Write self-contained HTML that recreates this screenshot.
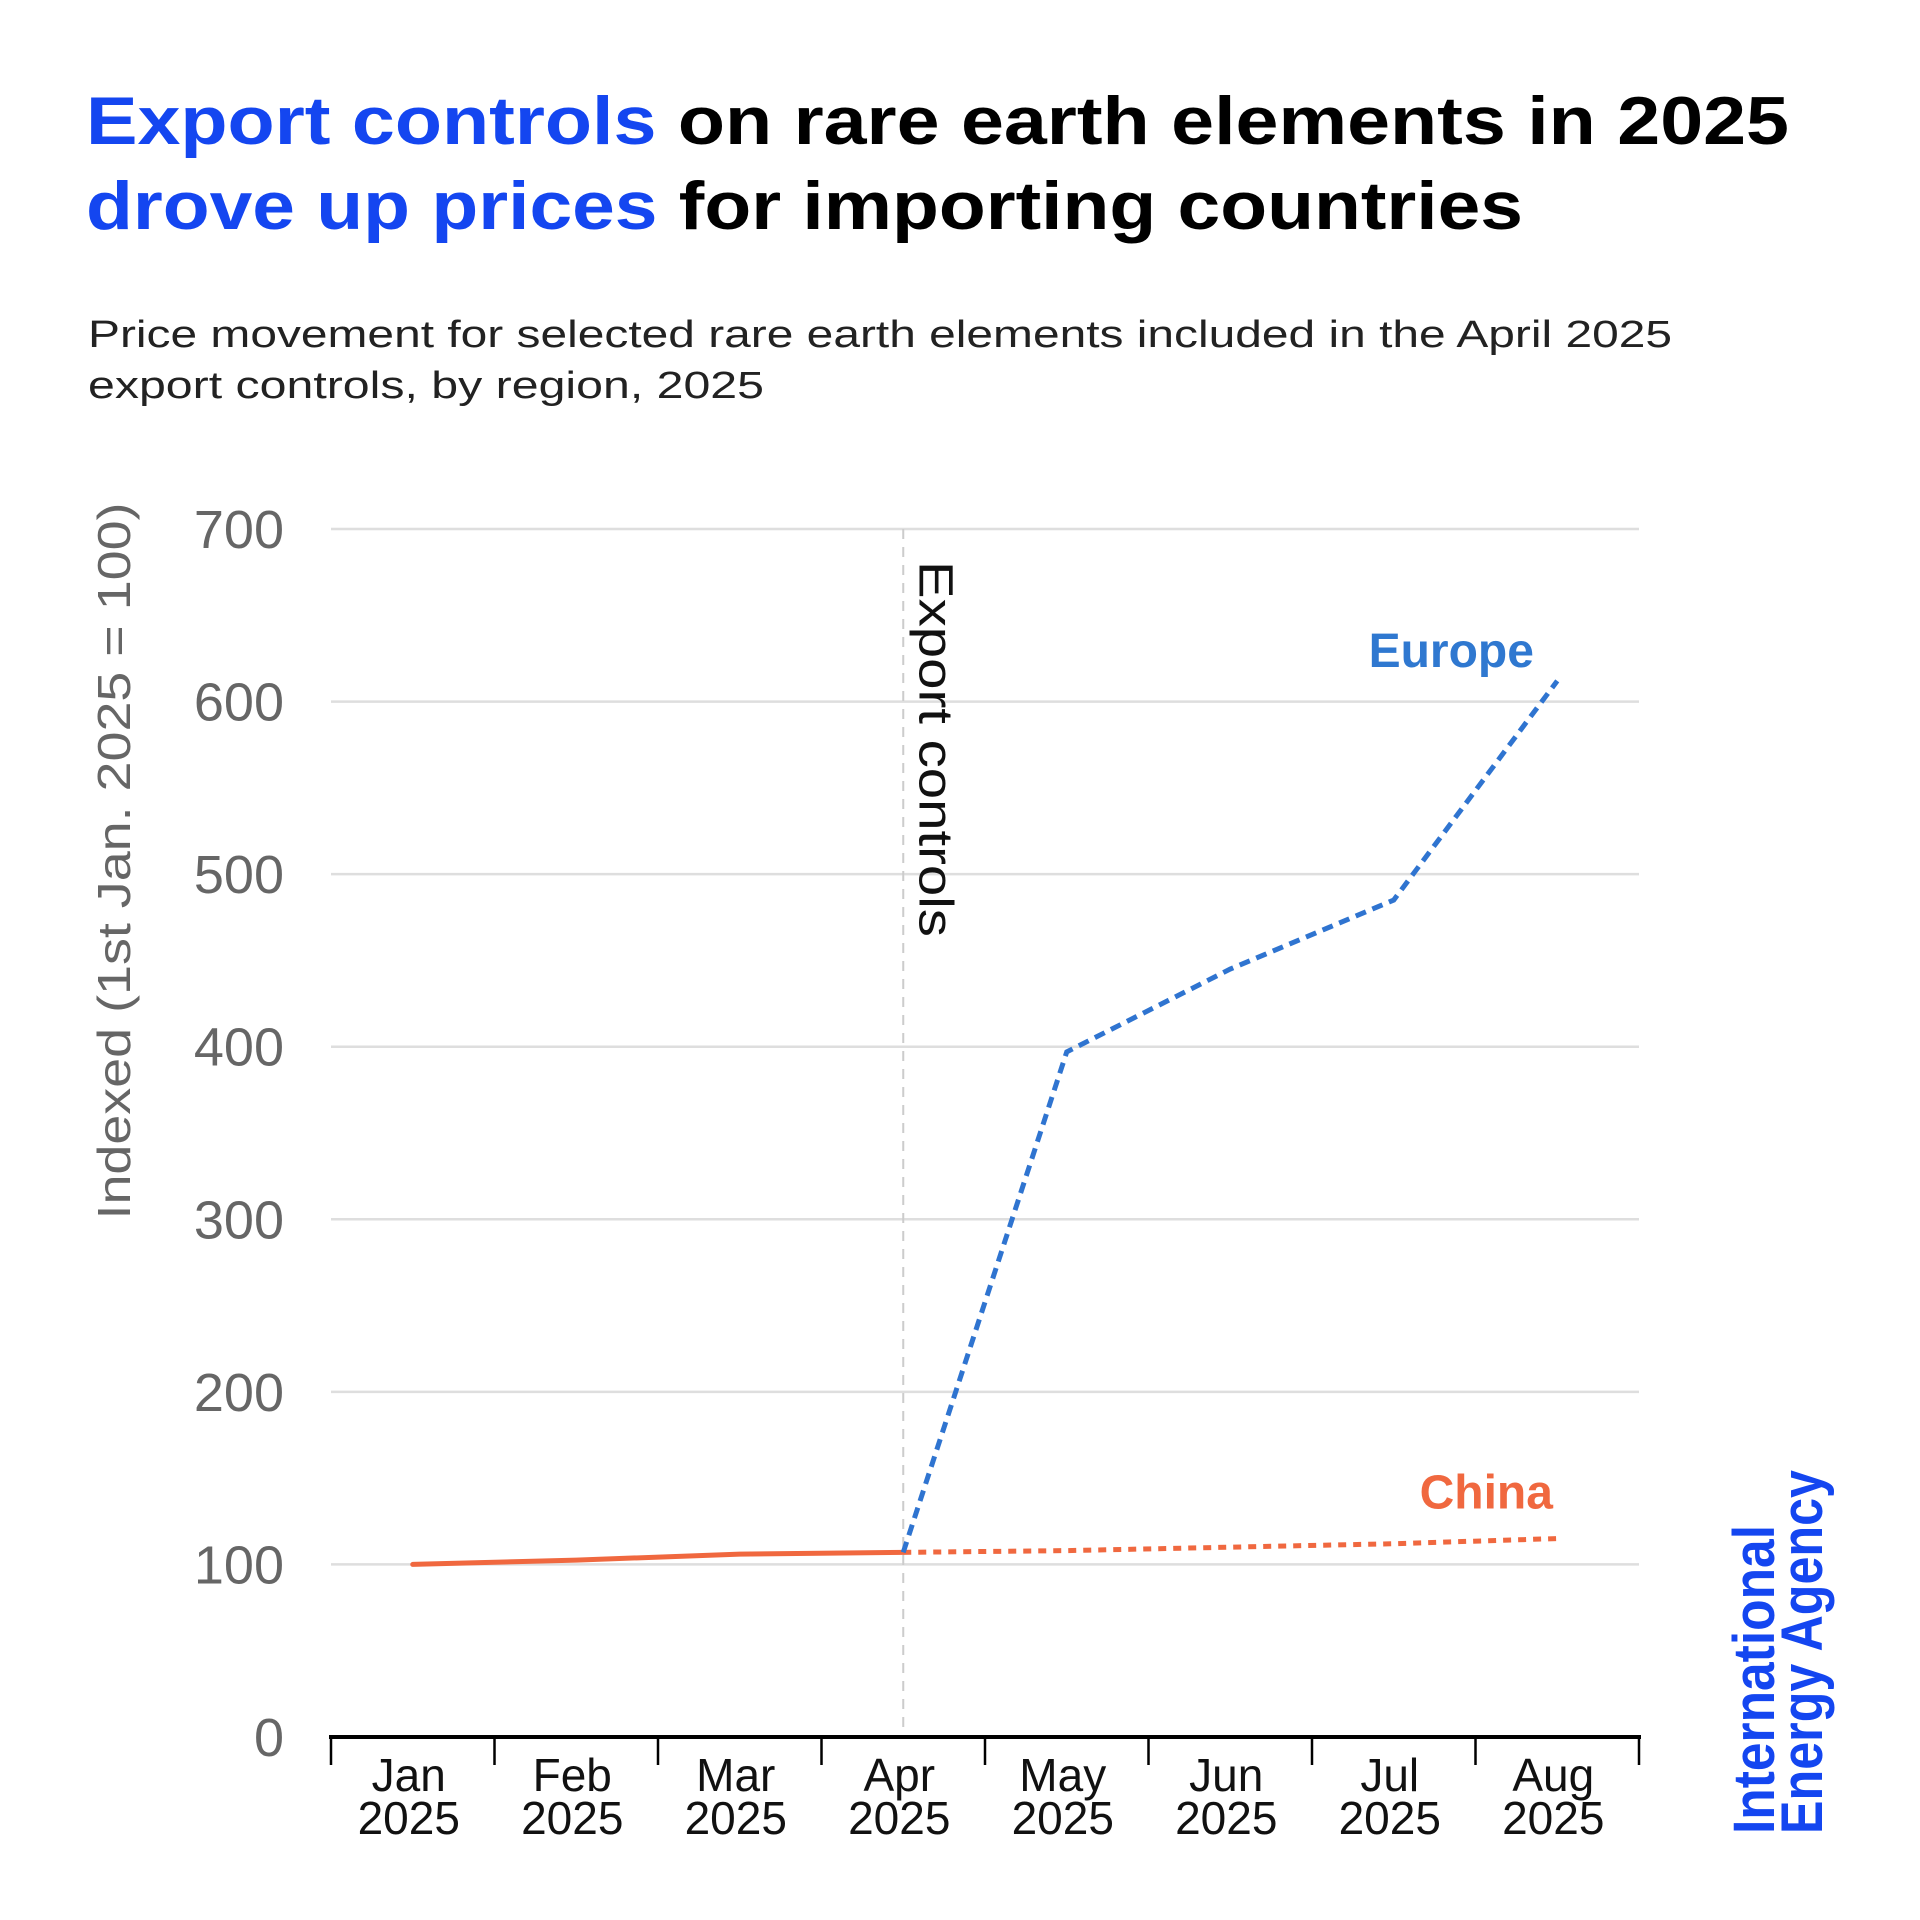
<!DOCTYPE html>
<html><head><meta charset="utf-8"><style>
html,body{margin:0;padding:0;background:#fff;}
svg{display:block;font-family:"Liberation Sans",sans-serif;}
</style></head><body>
<svg id="chart" width="1920" height="1920" viewBox="0 0 1920 1920">
<text x="86" y="144" font-size="68" font-weight="bold" textLength="1703" lengthAdjust="spacingAndGlyphs"><tspan fill="#1446f0">Export controls</tspan><tspan fill="#000"> on rare earth elements in 2025</tspan></text>
<text x="86" y="229" font-size="68" font-weight="bold" textLength="1437" lengthAdjust="spacingAndGlyphs"><tspan fill="#1446f0">drove up prices</tspan><tspan fill="#000"> for importing countries</tspan></text>
<text x="88" y="347" font-size="38" fill="#222" textLength="1584" lengthAdjust="spacingAndGlyphs">Price movement for selected rare earth elements included in the April 2025</text>
<text x="88" y="398" font-size="38" fill="#222" textLength="676" lengthAdjust="spacingAndGlyphs">export controls, by region, 2025</text>
<text transform="translate(130,861) rotate(-90)" text-anchor="middle" font-size="46" fill="#666" textLength="717" lengthAdjust="spacingAndGlyphs">Indexed (1st Jan. 2025 = 100)</text>
<g id="grid"></g><g id="marks"></g><g id="axis"></g>
<text transform="translate(1774,1834) rotate(-90)" font-size="58" font-weight="bold" fill="#1446f0" textLength="309" lengthAdjust="spacingAndGlyphs">International</text>
<text transform="translate(1822,1834) rotate(-90)" font-size="58" font-weight="bold" fill="#1446f0" textLength="364" lengthAdjust="spacingAndGlyphs">Energy Agency</text>
</svg>
<script>
const categories = ["Jan","Feb","Mar","Apr","May","Jun","Jul","Aug"];
const yearLabel = "2025";
const chinaValues = [100,102.5,106,107,108,110,112,115];
const europeValues = [null,null,null,107,397,445,485,612];
const yTicks = [0,100,200,300,400,500,600,700];
const splitIndex = 3;

const NS="http://www.w3.org/2000/svg";
const X0=331,X1=1639,Y0=1737,Y700=529;
const band=(X1-X0)/categories.length;
function xs(i){return X0+band*(i+0.5);}
function ys(v){return Y0-(v/700)*(Y0-Y700);}
function mk(tag,attrs,parent){const e=document.createElementNS(NS,tag);for(const k in attrs)e.setAttribute(k,attrs[k]);parent.appendChild(e);return e;}
const grid=document.getElementById('grid'),marks=document.getElementById('marks'),axis=document.getElementById('axis');

yTicks.forEach(t=>{
  if(t>0){const l=mk('line',{x1:X0,x2:X1,y1:ys(t),y2:ys(t),stroke:'#dedede','stroke-width':2.5},grid);
  
  }
  const tx=mk('text',{x:284,y:ys(t)+19,'text-anchor':'end','font-size':54,fill:'#666'},grid);
  tx.textContent=t;
  
  
});

const vl=mk('line',{x1:xs(splitIndex),x2:xs(splitIndex),y1:Y700,y2:Y0,stroke:'#ccc','stroke-width':2,'stroke-dasharray':'10 8'},grid);


const vt=mk('text',{transform:`translate(${xs(splitIndex)+16},561) rotate(90)`,'font-size':48,fill:'#111',textLength:376,lengthAdjust:'spacingAndGlyphs'},grid);
vt.textContent='Export controls';



function pts(vals,a,b){const p=[];for(let i=a;i<=b;i++){if(vals[i]!=null)p.push(xs(i)+','+ys(vals[i]));}return p.join(' ');}
const cs=mk('polyline',{points:pts(chinaValues,0,splitIndex),fill:'none',stroke:'#f0683f','stroke-width':5,'stroke-linejoin':'round','stroke-linecap':'round'},marks);


const cd=mk('polyline',{points:pts(chinaValues,splitIndex,categories.length-1),fill:'none',stroke:'#f0683f','stroke-width':5,'stroke-dasharray':'8 7'},marks);


const ed=mk('polyline',{points:pts(europeValues,splitIndex,categories.length-1),fill:'none',stroke:'#2f74d0','stroke-width':5,'stroke-dasharray':'11 7'},marks);



const last=categories.length-1;
const el=mk('text',{x:xs(last)-106,y:ys(europeValues[last])-14,'text-anchor':'middle','font-size':48,'font-weight':'bold',fill:'#2f78d0'},marks);
el.textContent='Europe';


const cl=mk('text',{x:xs(last)-71,y:ys(chinaValues[last])-30,'text-anchor':'middle','font-size':48,'font-weight':'bold',fill:'#f0683f'},marks);
cl.textContent='China';



const ax=mk('line',{x1:X0-2,x2:X1+2,y1:Y0,y2:Y0,stroke:'#000','stroke-width':4},axis);


for(let i=0;i<=categories.length;i++){
  const tk=mk('line',{x1:X0+band*i,x2:X0+band*i,y1:Y0,y2:Y0+28,stroke:'#000','stroke-width':2.5},axis);
  
  
}
categories.forEach((c,i)=>{
  const t=mk('text',{x:xs(i)-4,y:1791,'text-anchor':'middle','font-size':46,fill:'#111'},axis);
  t.textContent=c;
  
  
  const t2=mk('text',{x:xs(i)-4,y:1834,'text-anchor':'middle','font-size':46,fill:'#111'},axis);
  t2.textContent=yearLabel;
  
  
});
</script>
</body></html>
